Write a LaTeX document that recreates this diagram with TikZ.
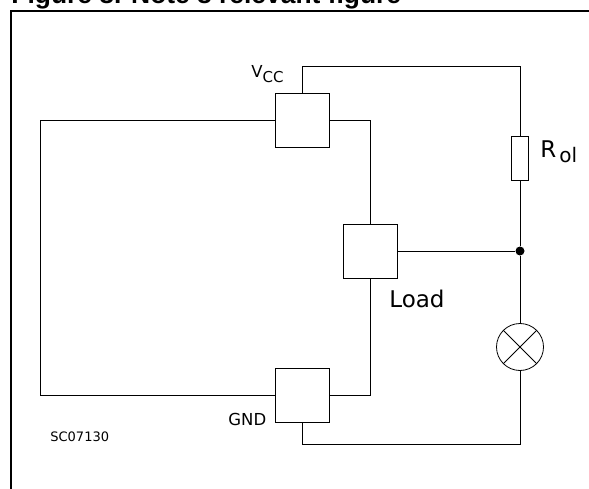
\documentclass[tikz,border=0pt]{standalone}
\usepackage{fontspec}
\setmainfont{Liberation Sans}
\newfontfamily\labelfont{DejaVu Sans}
\usepackage{tikz}
\begin{document}
\begin{tikzpicture}[x=1pt,y=-1pt,line width=0.8pt]
        \tikzstyle{every node}=[inner sep=0pt]
        \tikzstyle{pin box}=[draw,fill=white,minimum size=54pt]
        \tikzstyle{big label}=[font=\labelfont\fontsize{23}{23}\selectfont]
        \tikzstyle{small label}=[font=\labelfont\fontsize{16.5}{17}\selectfont]
        \useasboundingbox (0,0) rectangle (589,489);
        \draw[line width=1.5pt] (11,489) -- (11,11) -- (589,11);
        \node[anchor=base west,font=\bfseries\fontsize{26.4}{26}\selectfont] (title) at (11,4) {Figure 8. Note 8 relevant figure};
        \node[pin box] (vcc) at (302,120) {};
        \node[pin box] (load) at (370,251) {};
        \node[pin box] (gnd) at (302,395) {};
        \node[draw,fill=white,minimum width=17pt,minimum height=44pt] (rol) at (520,158) {};
        \node[draw,circle,minimum size=47pt] (lamp) at (520,347) {};
        \node[fill=black,circle,minimum size=9pt] (junction) at (520,251) {};
        \draw (vcc.north) -- (302,66) -| (rol.north);
        \draw (rol.south) -- (junction) -- (lamp.north);
        \draw (load.east) -- (junction);
        \draw (lamp.south) |- (302,444) -- (gnd.south);
        \draw (vcc.east) -| (load.north);
        \draw (load.south) |- (gnd.east);
        \draw (vcc.west) -| (40,395) -- (gnd.west);
        \draw (lamp.north west) -- (lamp.south east);
        \draw (lamp.north east) -- (lamp.south west);
        \node[small label,anchor=base west] (vcclabel) at (251,78) {V\raisebox{-5pt}{\fontsize{15}{15}\selectfont CC}};
        \node[big label,anchor=base west] (rollabel) at (540,158) {R};
        \node[small label,anchor=base west,font=\labelfont\fontsize{20}{20}\selectfont] (ollabel) at (559,163) {ol};
        \node[big label,anchor=base west] (loadlabel) at (389,307) {Load};
        \node[small label,anchor=base west] (gndlabel) at (228,425) {GND};
        \node[anchor=base west,font=\labelfont\fontsize{13}{13}\selectfont] (code) at (50,441) {SC07130};
    \end{tikzpicture}
\end{document}
